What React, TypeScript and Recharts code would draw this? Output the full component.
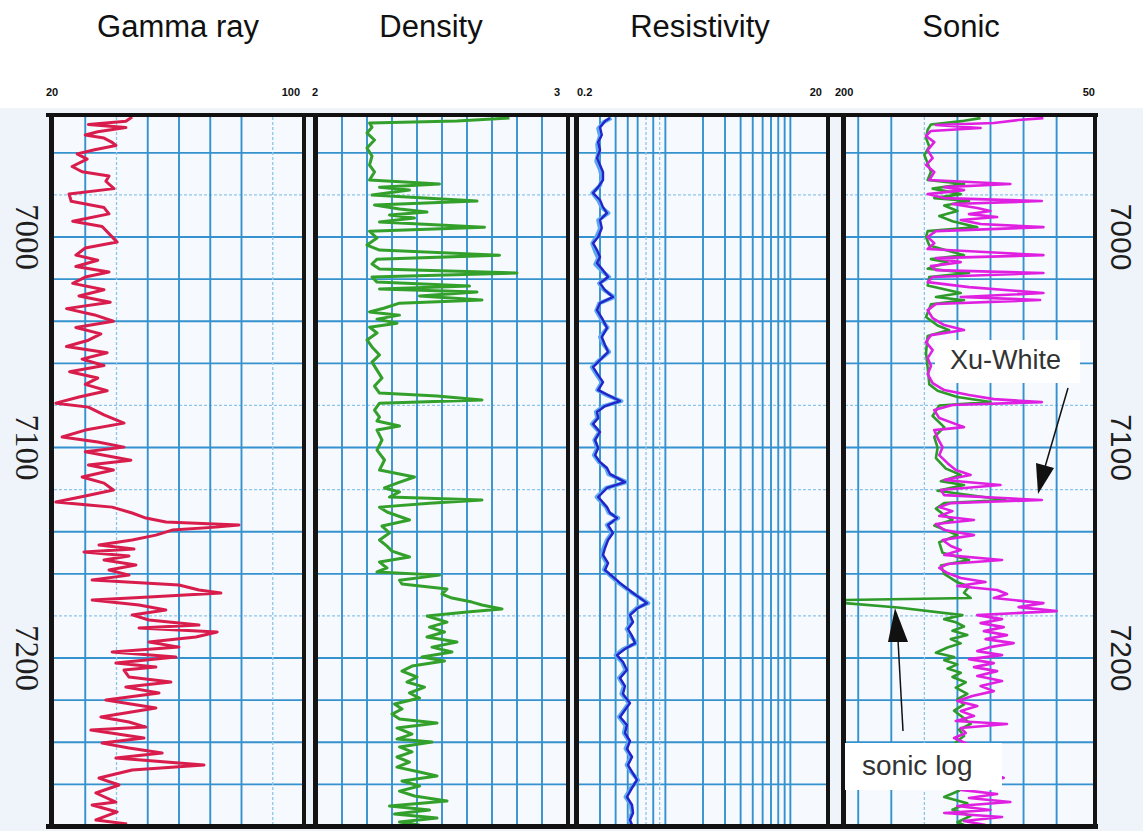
import React from 'react';
import { LineChart, Line, XAxis, YAxis, ReferenceLine } from 'recharts';

// ---------- depth axis ----------
const DEPTH_DOMAIN: [number, number] = [6942.5, 7279.3];
const depthGrid = [6960, 6980, 7000, 7020, 7040, 7060, 7080, 7100, 7120, 7140, 7160, 7180, 7200, 7220, 7240, 7260];
const depthGridLight = [6980, 7080, 7120, 7180];
const depthLabels = [7000, 7100, 7200];

// ---------- track titles & scale labels ----------
const trackTitles = ['Gamma ray', 'Density', 'Resistivity', 'Sonic'];
const gammaRange = ['20', '100'];
const densityRange = ['2', '3'];
const resistivityRange = ['0.2', '20'];
const sonicRange = ['200', '50'];

// ---------- grid values ----------
const gammaGrid = [30, 40, 50, 60, 70, 80, 90];
const gammaGridLight = [40, 90];
const densityGrid = [2.1, 2.2, 2.3, 2.4, 2.5, 2.6, 2.7, 2.8, 2.9];
const resistivityGrid = [0.3, 0.4, 0.5, 0.6, 0.7, 0.8, 0.9, 1, 2, 3, 4, 5, 6, 7, 8, 9, 10];
const resistivityGridLight = [0.7, 0.9];
const sonicGrid = [192, 172, 152, 132, 112, 92, 72];
const sonicGridLight = [152];

// ---------- log curves: [depth, value] ----------
const gammaRay: [number, number][] = [
  [6943, 45], [6945, 43], [6946.5, 31], [6948, 43], [6950, 34], [6951.5, 30], [6953, 36], [6955, 38.6],
  [6956.5, 39.8], [6958.5, 33], [6960.5, 27.4], [6963, 30.6], [6966.5, 25.8], [6969, 29], [6971, 37.6],
  [6973.5, 36.6], [6977, 39.2], [6979.5, 24.8], [6983, 25.5], [6986, 36], [6989, 37.6], [6992.5, 26],
  [6995, 35.4], [7002.4, 40.2], [7005.2, 30], [7008.6, 27], [7011, 34], [7014, 27], [7016.6, 37.6],
  [7019, 30], [7022, 26], [7025, 36], [7028, 28], [7031, 38], [7034, 24], [7037, 33], [7040, 39],
  [7043, 27], [7046, 35], [7049, 31], [7052, 24], [7055, 37], [7058, 29], [7061, 36], [7064, 25],
  [7067, 34], [7070, 30], [7073, 37], [7076, 28], [7078.9, 20.6], [7080.8, 31], [7084.5, 36],
  [7088.4, 42.4], [7091.7, 30], [7095, 22.6], [7097.4, 34], [7099.8, 42.4], [7102, 30], [7106, 44.6],
  [7108.3, 31], [7110.7, 39], [7114, 29], [7116.9, 36], [7120.2, 39], [7123, 30], [7125.9, 20.6],
  [7127.3, 31], [7128.3, 38.6], [7131.1, 45], [7133.5, 49.4], [7135.4, 55.8], [7136.8, 79.2],
  [7137.8, 71.8], [7139.2, 57.8], [7141.6, 52.6], [7143.9, 45], [7146.3, 34.4], [7148.2, 45.6],
  [7149.6, 29.6], [7151.5, 44], [7153.4, 36], [7155.8, 46.2], [7158.2, 37.6], [7160.6, 44],
  [7162.9, 32.2], [7165.3, 60], [7167.7, 66.4], [7169.1, 73.4], [7171, 50.4], [7172.4, 32.2],
  [7174.8, 47.2], [7177.2, 55.8], [7179.5, 45], [7181.9, 50.4], [7184.3, 66.4], [7185.7, 47.2],
  [7187.6, 72.2], [7190, 65.4], [7192.4, 50.4], [7194.8, 60], [7197.1, 38.6], [7199.5, 59],
  [7202.4, 39.8], [7204.3, 52.6], [7205.7, 42.4], [7209, 44], [7211.4, 57.4], [7213.8, 43],
  [7216.6, 53.6], [7219.9, 36.6], [7223.7, 52.6], [7228, 35], [7230.4, 44], [7232.8, 49.4],
  [7234.2, 31.8], [7238, 48.8], [7240.4, 35.4], [7242.7, 44], [7245.1, 54.6], [7247.5, 39.8],
  [7250.8, 68], [7253.2, 45], [7257, 34.4], [7260.3, 40.8], [7264.1, 33.4], [7268.4, 39.8],
  [7269.8, 32.2], [7273.1, 40.2], [7276.9, 33.4], [7278.8, 43.4],
];

const density: [number, number][] = [
  [6943.5, 2.77], [6944.9, 2.56], [6945.8, 2.21], [6947.8, 2.22], [6950.6, 2.2], [6953.9, 2.23],
  [6957.7, 2.2], [6961.5, 2.22], [6965.8, 2.21], [6969.1, 2.23], [6972.9, 2.21], [6974.8, 2.49],
  [6976.3, 2.25], [6977.7, 2.37], [6980, 2.22], [6982.9, 2.64], [6984.8, 2.23], [6986.7, 2.33],
  [6988.1, 2.44], [6989.5, 2.29], [6991, 2.39], [6992.9, 2.25], [6995.3, 2.67], [6997.2, 2.21],
  [7000.5, 2.24], [7003.8, 2.2], [7006.2, 2.25], [7008.6, 2.73], [7010.5, 2.24], [7012.8, 2.22],
  [7015.2, 2.25], [7017.1, 2.8], [7019, 2.22], [7021.4, 2.24], [7023.3, 2.61], [7024.7, 2.25],
  [7026.1, 2.64], [7028, 2.41], [7029.9, 2.66], [7031.4, 2.33], [7033.7, 2.27], [7035.6, 2.21],
  [7037.1, 2.33], [7039, 2.24], [7040.9, 2.32], [7042.8, 2.21], [7045.6, 2.24], [7048.9, 2.2],
  [7052.2, 2.22], [7056, 2.25], [7059.4, 2.22], [7063.2, 2.24], [7067, 2.26], [7070.8, 2.23],
  [7074.1, 2.25], [7075.5, 2.48], [7077.4, 2.66], [7078.9, 2.25], [7082.2, 2.23], [7085.5, 2.25],
  [7087.4, 2.24], [7089.8, 2.33], [7091.7, 2.24], [7096.4, 2.26], [7101.2, 2.24], [7105.9, 2.27],
  [7110.7, 2.25], [7114, 2.39], [7116.9, 2.32], [7119.2, 2.27], [7121.1, 2.33], [7123.5, 2.29],
  [7124.9, 2.66], [7126.4, 2.45], [7128.3, 2.25], [7130.6, 2.28], [7134.4, 2.37], [7137.3, 2.26],
  [7140.6, 2.29], [7143.9, 2.25], [7146.8, 2.28], [7149.2, 2.3], [7152, 2.37], [7154.4, 2.25],
  [7157.2, 2.28], [7159.1, 2.24], [7160.6, 2.49], [7163, 2.33], [7164.8, 2.34], [7167.2, 2.52],
  [7169.6, 2.5], [7171.5, 2.54], [7173.4, 2.62], [7174.8, 2.66], [7176.7, 2.74], [7178.1, 2.6],
  [7180, 2.44], [7182.9, 2.52], [7185.3, 2.45], [7187.6, 2.51], [7190, 2.44], [7192.4, 2.56],
  [7194.8, 2.46], [7197.1, 2.54], [7199.5, 2.42], [7201.4, 2.51], [7203.8, 2.38], [7206.2, 2.34],
  [7209, 2.4], [7211.4, 2.36], [7213.8, 2.43], [7216.6, 2.37], [7219, 2.41], [7221.8, 2.31],
  [7224.2, 2.34], [7226.6, 2.3], [7229, 2.33], [7230.9, 2.48], [7233.2, 2.32], [7236.1, 2.38],
  [7238.5, 2.32], [7239.9, 2.46], [7242.2, 2.33], [7244.6, 2.38], [7247, 2.32], [7249.4, 2.37],
  [7251.8, 2.32], [7254.1, 2.41], [7256, 2.48], [7258.4, 2.34], [7260.8, 2.41], [7263.2, 2.33],
  [7265.5, 2.39], [7267.9, 2.52], [7270.3, 2.29], [7272.2, 2.45], [7274.1, 2.31], [7276, 2.48],
  [7277.9, 2.33], [7279.3, 2.41],
];

const resistivityDeep: [number, number][] = [
  [6943.5, 0.36], [6944.9, 0.33], [6947.8, 0.3], [6951.5, 0.31], [6954.9, 0.29], [6958.7, 0.3],
  [6962.5, 0.284], [6965.8, 0.3], [6969.1, 0.317], [6972.9, 0.317], [6976.3, 0.29], [6979.1, 0.264],
  [6982.4, 0.3], [6985.8, 0.317], [6988.6, 0.341], [6991.9, 0.3], [6995.7, 0.31], [7000, 0.29],
  [7002.9, 0.264], [7006.2, 0.284], [7009.5, 0.3], [7012.4, 0.284], [7015.7, 0.317], [7019, 0.348],
  [7021.9, 0.3], [7025.2, 0.329], [7028.5, 0.381], [7031.4, 0.3], [7034.7, 0.284], [7039.4, 0.317],
  [7043.2, 0.341], [7047.5, 0.31], [7051.3, 0.329], [7054.6, 0.348], [7058.4, 0.3], [7061.8, 0.264],
  [7065.6, 0.29], [7068.9, 0.317], [7072.7, 0.29], [7075.5, 0.36], [7077.9, 0.434], [7080.3, 0.329],
  [7083.1, 0.284], [7086, 0.29], [7088.8, 0.264], [7092.6, 0.3], [7096.4, 0.274], [7100.2, 0.29],
  [7103.6, 0.274], [7106.9, 0.3], [7109.7, 0.341], [7112.6, 0.361], [7116.4, 0.475], [7119.2, 0.341],
  [7123.5, 0.29], [7128.3, 0.341], [7131.1, 0.361], [7133.5, 0.41], [7136.8, 0.348], [7140.6, 0.381],
  [7143.9, 0.348], [7147.7, 0.329], [7151, 0.317], [7154.9, 0.348], [7158.2, 0.329], [7161, 0.374],
  [7164.4, 0.434], [7169.1, 0.551], [7173.9, 0.713], [7176.2, 0.604], [7179.6, 0.521], [7182.9, 0.551],
  [7186.2, 0.502], [7189.5, 0.541], [7192.9, 0.572], [7195.7, 0.475], [7198.6, 0.41], [7201.9, 0.458],
  [7205.7, 0.493], [7209.5, 0.434], [7213.3, 0.475], [7217.1, 0.458], [7221.4, 0.521], [7224.7, 0.475],
  [7228, 0.434], [7231.8, 0.493], [7235.6, 0.475], [7239.4, 0.521], [7243.2, 0.493], [7247, 0.541],
  [7250.8, 0.502], [7254.1, 0.541], [7257.9, 0.593], [7261.7, 0.541], [7266, 0.493], [7269.8, 0.541],
  [7273.6, 0.551], [7276.9, 0.521], [7279.3, 0.541],
];

const resistivityShallow: [number, number][] = [
  [6943.5, 0.37], [6945.5, 0.32], [6948.5, 0.29], [6952, 0.3], [6956, 0.285], [6960, 0.29], [6964, 0.28],
  [6968, 0.3], [6972, 0.31], [6975.5, 0.3], [6979, 0.26], [6982.5, 0.29], [6986, 0.31], [6988.6, 0.35],
  [6992, 0.29], [6996, 0.3], [7000, 0.28], [7003, 0.26], [7007, 0.275], [7010, 0.29], [7013, 0.275],
  [7016, 0.31], [7019, 0.355], [7022, 0.295], [7025, 0.32], [7028.5, 0.39], [7031.5, 0.295], [7035, 0.28],
  [7039.5, 0.31], [7043, 0.345], [7047.5, 0.3], [7051, 0.32], [7054.6, 0.355], [7058.5, 0.295],
  [7061.8, 0.258], [7065.6, 0.283], [7069, 0.31], [7072.7, 0.285], [7075.5, 0.35], [7077.9, 0.445],
  [7080.3, 0.32], [7083, 0.278], [7086, 0.285], [7088.8, 0.258], [7092.6, 0.295], [7096.4, 0.27],
  [7100.2, 0.285], [7103.6, 0.268], [7107, 0.295], [7109.7, 0.335], [7112.6, 0.35], [7116.4, 0.49],
  [7119.2, 0.335], [7123.5, 0.282], [7128.3, 0.335], [7131, 0.352], [7133.5, 0.42], [7136.8, 0.34],
  [7140.6, 0.372], [7144, 0.34], [7147.7, 0.32], [7151, 0.31], [7155, 0.34], [7158, 0.322], [7161, 0.365],
  [7164.4, 0.425], [7169, 0.54], [7173.9, 0.73], [7176.2, 0.59], [7179.6, 0.51], [7183, 0.54],
  [7186.2, 0.49], [7189.5, 0.53], [7192.9, 0.585], [7195.7, 0.46], [7198.6, 0.4], [7202, 0.45],
  [7205.7, 0.48], [7209.5, 0.425], [7213.3, 0.465], [7217, 0.445], [7221.4, 0.51], [7224.7, 0.465],
  [7228, 0.425], [7232, 0.48], [7235.6, 0.465], [7239.4, 0.51], [7243, 0.48], [7247, 0.53], [7250.8, 0.49],
  [7254, 0.53], [7258, 0.605], [7261.7, 0.53], [7266, 0.48], [7269.8, 0.53], [7273.6, 0.54], [7277, 0.51],
  [7279.3, 0.53],
];

const sonicLog: [number, number][] = [
  [6943.5, 118], [6944.8, 128], [6946.5, 148], [6949, 150], [6953, 151], [6957, 149], [6961, 152],
  [6965, 150], [6969, 148], [6972.9, 150], [6974.8, 128], [6977, 147], [6979.6, 130], [6981.5, 146],
  [6982.9, 125], [6985, 140], [6987.6, 132], [6990, 143], [6992.5, 135], [6995.3, 120], [6997.2, 150],
  [7000, 151], [7004, 149], [7008.6, 128], [7010.5, 148], [7012, 138], [7015, 150], [7017.1, 125],
  [7019, 149], [7023, 150], [7026.6, 130], [7028.5, 145], [7030, 128], [7032, 148], [7038, 151],
  [7042, 144], [7044.2, 137], [7047, 150], [7055, 151], [7062, 150], [7070, 149], [7073, 144],
  [7076, 132], [7078.4, 112], [7080, 143], [7085, 147], [7090.3, 140], [7095, 146], [7100, 144],
  [7105, 145], [7110, 139], [7113, 130], [7116, 142], [7117.8, 128], [7120.5, 144], [7124.9, 103],
  [7126.4, 140], [7129, 145], [7132, 140], [7134.4, 135], [7137, 146], [7141.6, 132], [7145, 143],
  [7150, 141], [7153.4, 125], [7156, 142], [7160, 140], [7164, 132], [7166, 125], [7169, 128],
  [7171.5, 124], [7172.4, 200], [7173.9, 200], [7176, 168], [7179.6, 129], [7181.5, 140], [7183, 133],
  [7185, 128], [7187, 135], [7189, 126], [7191, 136], [7193, 130], [7195, 138], [7197.5, 145],
  [7199.5, 134], [7201, 140], [7203, 132], [7205, 138], [7207, 130], [7209, 135], [7211.5, 127],
  [7214, 133], [7217, 126], [7219.5, 132], [7222, 128], [7225, 134], [7228, 129], [7231.3, 124],
  [7234, 131], [7237, 128], [7240, 133], [7244, 127], [7248, 132], [7252, 129], [7256, 134], [7260, 128],
  [7263, 131], [7266, 140], [7269, 126], [7272, 135], [7275, 124], [7278, 132], [7279.3, 128],
];

const xuWhite: [number, number][] = [
  [6943.5, 80], [6944.4, 95], [6945.8, 110], [6946.8, 145], [6948.2, 118], [6949.6, 148], [6952, 151],
  [6954.9, 146], [6958.7, 150], [6962.5, 147], [6965.8, 151], [6969.1, 146], [6972.9, 149],
  [6974.8, 100], [6976.3, 140], [6977.7, 128], [6979.6, 150], [6981.5, 140], [6982.9, 81], [6984.3, 135],
  [6986.2, 120], [6987.6, 112], [6989.1, 125], [6990.5, 108], [6991.9, 130], [6993.8, 118], [6995.3, 80],
  [6997.2, 145], [7000, 150], [7002.9, 146], [7005.7, 150], [7008.6, 80], [7010, 145], [7011.9, 130],
  [7013.8, 148], [7015.7, 145], [7017.1, 80], [7019, 147], [7021.4, 150], [7023.8, 125], [7026.6, 80],
  [7028.5, 130], [7029.9, 82], [7031.8, 145], [7034.7, 150], [7038.5, 147], [7041.8, 140], [7044.2, 128],
  [7046.6, 148], [7049.9, 151], [7053.7, 147], [7057.5, 150], [7061.3, 148], [7065.1, 150], [7069.4, 147],
  [7072.7, 140], [7075, 125], [7077, 110], [7078.4, 81], [7079.8, 135], [7082.2, 146], [7086, 143],
  [7090.3, 128], [7091.7, 146], [7095.5, 144], [7099.8, 141], [7103.6, 143], [7107.4, 138], [7110.7, 133],
  [7113, 124], [7115.4, 140], [7117.8, 106], [7120.2, 142], [7122.6, 140], [7124.9, 81], [7126.4, 136],
  [7128.3, 143], [7130.2, 135], [7132.5, 143], [7134.4, 122], [7136.3, 145], [7139.2, 140], [7141.6, 122],
  [7143.9, 141], [7146.8, 136], [7148.7, 130], [7151, 140], [7153.4, 105], [7155.3, 138], [7157.2, 143],
  [7159.6, 138], [7162, 130], [7163.9, 115], [7165.8, 132], [7167.7, 108], [7169.6, 102], [7171.5, 110],
  [7173.9, 80], [7175.8, 95], [7177.7, 72], [7179.6, 120], [7181.5, 105], [7183.4, 118], [7185.3, 104],
  [7187.2, 116], [7189.1, 102], [7191, 115], [7192.9, 98], [7194.8, 112], [7196.7, 120], [7198.6, 105],
  [7200.5, 125], [7202.4, 110], [7204.3, 122], [7206.2, 108], [7208.5, 120], [7210.9, 105], [7213.3, 118],
  [7215.7, 110], [7218, 123], [7220.4, 132], [7222.8, 120], [7225.2, 130], [7227.5, 122], [7229.9, 133],
  [7231.3, 102], [7233.2, 130], [7235.6, 127], [7238, 134], [7240.8, 126], [7243.7, 132], [7247, 120],
  [7250.3, 128], [7253.6, 118], [7256.9, 104], [7259.8, 125], [7262.6, 130], [7264.6, 108], [7266.5, 125],
  [7268.4, 100], [7270.3, 132], [7272.2, 112], [7273.6, 140], [7275.5, 105], [7277.4, 128], [7279.3, 115],
];

// ---------- layout constants ----------
const PLOT_TOP = 116;
const PLOT_H = 709;
const GRID_DARK = '#3592cf';
const GRID_LIGHT = '#8ec5ea';
const FONT = '"Liberation Sans", Arial, sans-serif';

const toPoints = (arr: [number, number][]) => arr.map(([d, v]) => ({ d, v }));

type Series = { data: [number, number][]; color: string; width: number };

function depthTick(xPos: number, family: string, size: number) {
  return (props: any) => {
    const { y, payload } = props;
    return (
      <text
        x={xPos}
        y={y}
        transform={`rotate(90, ${xPos}, ${y})`}
        textAnchor="middle"
        dominantBaseline="central"
        fontFamily={family}
        fontSize={size}
        fill="#1e1e1e"
      >
        {payload.value}
      </text>
    );
  };
}

function Track(props: {
  left: number;
  plotWidth: number;
  domain: [number, number];
  scale?: 'linear' | 'log';
  reversed?: boolean;
  grid: number[];
  gridLight: number[];
  series: Series[];
  axisSide?: 'left' | 'right';
}) {
  const { left, plotWidth, domain, scale = 'linear', reversed = false, grid, gridLight, series, axisSide } = props;
  const axisW = axisSide ? (axisSide === 'left' ? 54 : 50) : 0;
  const chartLeft = axisSide === 'left' ? left - axisW : left;
  const width = plotWidth + axisW;
  return (
    <div style={{ position: 'absolute', left: chartLeft, top: PLOT_TOP, width, height: PLOT_H }}>
      <LineChart width={width} height={PLOT_H} layout="vertical" margin={{ top: 0, right: 0, bottom: 0, left: 0 }}>
        <XAxis type="number" dataKey="v" domain={domain} scale={scale} reversed={reversed} hide allowDataOverflow />
        <YAxis
          type="number"
          dataKey="d"
          domain={DEPTH_DOMAIN}
          allowDataOverflow
          hide={!axisSide}
          orientation={axisSide === 'right' ? 'right' : 'left'}
          width={axisW || 1}
          ticks={depthLabels}
          interval={0}
          axisLine={false}
          tickLine={false}
          tick={
            axisSide === 'left'
              ? depthTick(27, '"Liberation Serif", "Times New Roman", serif', 33)
              : depthTick(plotWidth + 28, FONT, 30)
          }
        />
        {depthGrid.map((g) => (
          <ReferenceLine
            key={'h' + g}
            y={g}
            stroke={depthGridLight.includes(g) ? GRID_LIGHT : GRID_DARK}
            strokeWidth={depthGridLight.includes(g) ? 1.3 : 1.9}
            strokeDasharray={depthGridLight.includes(g) ? '3 2' : undefined}
          />
        ))}
        {grid.map((g) => (
          <ReferenceLine
            key={'v' + g}
            x={g}
            stroke={gridLight.includes(g) ? GRID_LIGHT : GRID_DARK}
            strokeWidth={gridLight.includes(g) ? 1.3 : 1.9}
            strokeDasharray={gridLight.includes(g) ? '3 2' : undefined}
          />
        ))}
        {series.map((s, i) => (
          <Line
            key={i}
            data={toPoints(s.data)}
            dataKey="v"
            type="linear"
            stroke={s.color}
            strokeWidth={s.width}
            strokeLinejoin="round"
            dot={false}
            activeDot={false}
            isAnimationActive={false}
          />
        ))}
      </LineChart>
    </div>
  );
}

const panels = [
  { l: 49, r: 306 },
  { l: 313, r: 570 },
  { l: 574, r: 830 },
  { l: 841, r: 1097 },
];

export default function App() {
  const titleX = [178, 431, 700, 961];
  return (
    <div
      style={{
        position: 'absolute',
        left: 0,
        top: 0,
        width: 1143,
        height: 831,
        background: '#ffffff',
        overflow: 'hidden',
        fontFamily: FONT,
      }}
    >
      {/* backgrounds */}
      <div style={{ position: 'absolute', left: 0, top: 108, width: 1143, height: 723, background: '#eef4fa' }} />
      {panels.map((p, i) => (
        <div
          key={'bg' + i}
          style={{ position: 'absolute', left: p.l, top: PLOT_TOP, width: p.r - p.l, height: PLOT_H, background: '#f6f9fd' }}
        />
      ))}

      <Track
        left={54}
        plotWidth={250}
        domain={[20, 100]}
        grid={gammaGrid}
        gridLight={gammaGridLight}
        axisSide="left"
        series={[{ data: gammaRay, color: '#d81d4c', width: 3 }]}
      />
      <Track
        left={317}
        plotWidth={250}
        domain={[2, 3]}
        grid={densityGrid}
        gridLight={[]}
        series={[{ data: density, color: '#33a02c', width: 3 }]}
      />
      <Track
        left={578}
        plotWidth={250}
        domain={[0.2, 20]}
        scale="log"
        grid={resistivityGrid}
        gridLight={resistivityGridLight}
        series={[
          { data: resistivityShallow, color: '#5aa8f0', width: 4 },
          { data: resistivityDeep, color: '#2424c8', width: 2.4 },
        ]}
      />
      <Track
        left={845}
        plotWidth={248}
        domain={[50, 200]}
        reversed
        grid={sonicGrid}
        gridLight={sonicGridLight}
        axisSide="right"
        series={[
          { data: sonicLog, color: '#2e9a2a', width: 2.6 },
          { data: xuWhite, color: '#e020e0', width: 2.6 },
        ]}
      />

      {/* frame */}
      <svg width={1143} height={831} style={{ position: 'absolute', left: 0, top: 0, pointerEvents: 'none' }}>
        <rect x={46} y={113} width={1052} height={4} fill="#111" />
        <rect x={46} y={824} width={1052} height={5} fill="#111" />
        {panels.map((p, i) => (
          <g key={'fr' + i}>
            <rect x={p.l} y={113} width={5} height={716} fill="#141414" />
            <rect x={p.r - 4} y={113} width={4} height={716} fill="#141414" />
          </g>
        ))}

        {/* titles */}
        {trackTitles.map((t, i) => (
          <text key={t} x={titleX[i]} y={37} textAnchor="middle" fontFamily={FONT} fontSize={31} fill="#111">
            {t}
          </text>
        ))}

        {/* scale labels */}
        <g fontFamily={FONT} fontSize={11} fill="#111" fontWeight="bold">
          <text x={46} y={96}>{gammaRange[0]}</text>
          <text x={300} y={96} textAnchor="end">{gammaRange[1]}</text>
          <text x={312} y={96}>{densityRange[0]}</text>
          <text x={560} y={96} textAnchor="end">{densityRange[1]}</text>
          <text x={577} y={96}>{resistivityRange[0]}</text>
          <text x={822} y={96} textAnchor="end">{resistivityRange[1]}</text>
          <text x={835} y={96}>{sonicRange[0]}</text>
          <text x={1095} y={96} textAnchor="end">{sonicRange[1]}</text>
        </g>

        {/* Xu-White annotation */}
        <rect x={935} y={340} width={145} height={43} fill="#ffffff" />
        <text x={950} y={369} fontFamily={FONT} fontSize={27} fill="#333">Xu-White</text>
        <line x1={1068} y1={388} x2={1045} y2={467} stroke="#111" strokeWidth={1.5} />
        <polygon points="1036,463 1054,468 1038,494" fill="#111" />

        {/* sonic log annotation */}
        <rect x={845} y={743} width={157} height={47} fill="#ffffff" />
        <text x={862} y={775} fontFamily={FONT} fontSize={28} fill="#333">sonic log</text>
        <line x1={903} y1={731} x2={898} y2={640} stroke="#111" strokeWidth={1.5} />
        <polygon points="888,642 908,642 895,608" fill="#111" />
      </svg>
    </div>
  );
}
